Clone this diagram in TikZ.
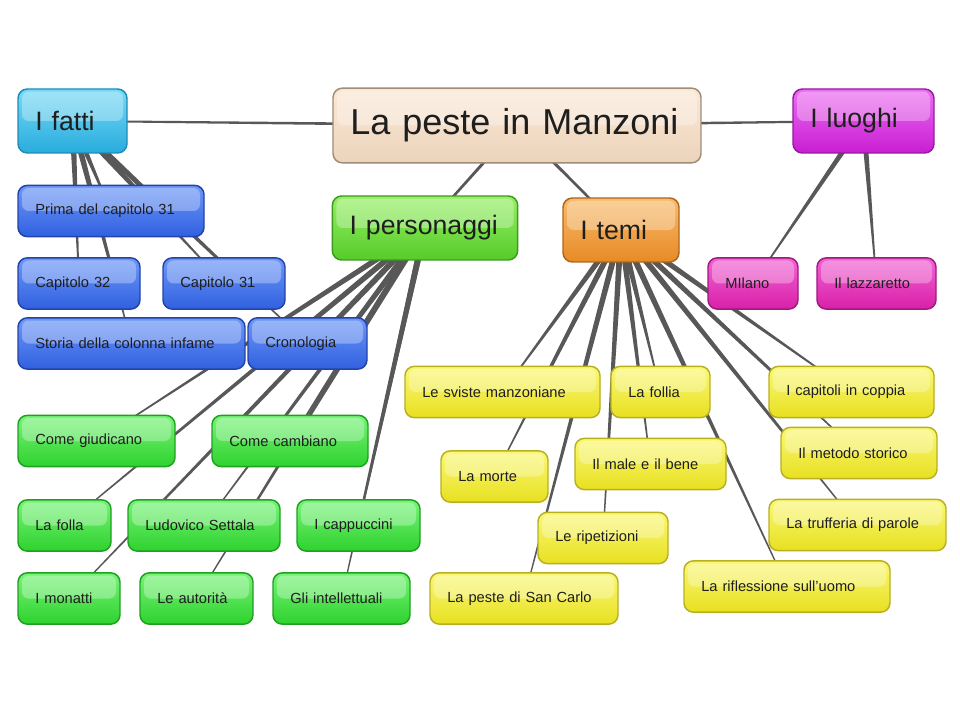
\documentclass[tikz,border=0pt]{standalone}
\usepackage{fontspec}
\setmainfont{Liberation Sans}
\usetikzlibrary{calc,backgrounds}

\definecolor{linkgrey}{RGB}{88,88,88}
\definecolor{textgrey}{RGB}{30,30,30}
\definecolor{rootT}{RGB}{250,232,214}
\definecolor{rootB}{RGB}{236,212,188}
\definecolor{rootD}{RGB}{160,140,120}
\definecolor{cyanT}{RGB}{120,218,246}
\definecolor{cyanB}{RGB}{40,172,222}
\definecolor{cyanD}{RGB}{30,140,184}
\definecolor{magT}{RGB}{236,110,242}
\definecolor{magB}{RGB}{200,30,210}
\definecolor{magD}{RGB}{150,26,160}
\definecolor{grnT}{RGB}{150,240,100}
\definecolor{grnB}{RGB}{86,204,42}
\definecolor{grnD}{RGB}{62,154,30}
\definecolor{orgT}{RGB}{248,188,110}
\definecolor{orgB}{RGB}{232,138,37}
\definecolor{orgD}{RGB}{176,102,26}
\definecolor{bluT}{RGB}{110,152,248}
\definecolor{bluB}{RGB}{48,96,224}
\definecolor{bluD}{RGB}{34,68,170}
\definecolor{lgrT}{RGB}{120,244,120}
\definecolor{lgrB}{RGB}{46,210,46}
\definecolor{lgrD}{RGB}{32,160,32}
\definecolor{yelT}{RGB}{250,248,120}
\definecolor{yelB}{RGB}{232,224,32}
\definecolor{yelD}{RGB}{184,176,32}
\definecolor{pnkT}{RGB}{242,100,212}
\definecolor{pnkB}{RGB}{216,32,168}
\definecolor{pnkD}{RGB}{160,24,128}

\tikzset{
  gloss/.style={path picture={\fill[white,opacity=0.3,rounded corners=5pt]
      ([xshift=3pt,yshift=-2pt]path picture bounding box.north west)
      rectangle ([xshift=-3pt]path picture bounding box.east);}},
  box/.style={rounded corners=7pt, line width=1.1pt, inner xsep=13pt,
      align=left, text=textgrey, gloss},
  rootbox/.style={box, minimum height=56pt, top color=rootT, bottom color=rootB,
      draw=rootD, font=\fontsize{27}{32}\selectfont},
  topic/.style={box, minimum height=48pt, font=\fontsize{20}{24}\selectfont},
  leaf/.style={box, minimum height=38.5pt, font=\fontsize{11}{13}\selectfont},
  fattic/.style={top color=cyanT, bottom color=cyanB, draw=cyanD},
  luoghic/.style={top color=magT, bottom color=magB, draw=magD},
  persc/.style={top color=grnT, bottom color=grnB, draw=grnD},
  temic/.style={top color=orgT, bottom color=orgB, draw=orgD},
  fatto/.style={leaf, top color=bluT, bottom color=bluB, draw=bluD},
  pers/.style={leaf, top color=lgrT, bottom color=lgrB, draw=lgrD},
  tema/.style={leaf, top color=yelT, bottom color=yelB, draw=yelD},
  luogo/.style={leaf, top color=pnkT, bottom color=pnkB, draw=pnkD}
}

% tapered connector: parent, child, half width at parent, half width at child
\newcommand{\tapered}[4]{\fill[linkgrey] ($(#1.center)!#3!90:(#2.center)$) -- ($(#2.center)!#4!-90:(#1.center)$) -- ($(#2.center)!#4!90:(#1.center)$) -- ($(#1.center)!#3!-90:(#2.center)$) -- cycle;}

\begin{document}
\begin{tikzpicture}[x=0.75pt,y=0.75pt,yscale=-1,xscale=1]
\useasboundingbox (0,0) rectangle (960,720);

%Shape: root
\node [rootbox, text width=250pt] (root) at (517,125.5) {La peste in Manzoni};

%Shape: main branches
\node [topic, fattic, text width=55.75pt] (fatti) at (72.5,121) {I fatti};
\node [topic, luoghic, text width=79.75pt] (luoghi) at (863.5,121) {I luoghi};
\node [topic, persc, text width=113pt] (personaggi) at (425,228) {I personaggi};
\node [topic, temic, text width=61pt] (temi) at (621,230) {I temi};

%Shape: I fatti
\node [fatto, text width=113.5pt] (prima) at (111,211) {Prima del capitolo 31};
\node [fatto, text width=65.5pt] (cap32) at (79,283.5) {Capitolo 32};
\node [fatto, text width=65.5pt] (cap31) at (224,283.5) {Capitolo 31};
\node [fatto, text width=144.25pt] (storia) at (131.5,343.5) {Storia della colonna infame};
\node [fatto, text width=63.25pt] (crono) at (307.5,343.5) {Cronologia};

%Shape: I luoghi
\node [luogo, text width=41.5pt] (milano) at (753,283.5) {MIlano};
\node [luogo, text width=63.25pt] (lazzaretto) at (876.5,283.5) {Il lazzaretto};

%Shape: I personaggi
\node [pers, text width=91.75pt] (giudicano) at (96.5,441) {Come giudicano};
\node [pers, text width=91pt] (cambiano) at (290,441) {Come cambiano};
\node [pers, text width=43.75pt] (folla) at (64.5,525.5) {La folla};
\node [pers, text width=88pt] (settala) at (204,525.5) {Ludovico Settala};
\node [pers, text width=66.25pt] (cappuccini) at (358.5,525.5) {I cappuccini};
\node [pers, text width=50.5pt] (monatti) at (69,598.5) {I monatti};
\node [pers, text width=58.75pt] (autorita) at (196.5,598.5) {Le autorità};
\node [pers, text width=76.75pt] (intellettuali) at (341.5,598.5) {Gli intellettuali};

%Shape: I temi
\node [tema, text width=120.25pt] (sviste) at (502.5,392) {Le sviste manzoniane};
\node [tema, text width=48.25pt] (follia) at (660.5,392) {La follia};
\node [tema, text width=97.75pt] (capitoli) at (851.5,392) {I capitoli in coppia};
\node [tema, text width=54.25pt] (morte) at (494.5,476.5) {La morte};
\node [tema, text width=87.25pt] (male) at (650.5,464) {Il male e il bene};
\node [tema, text width=91pt] (metodo) at (859,453) {Il metodo storico};
\node [tema, text width=71.5pt] (ripetizioni) at (603,538) {Le ripetizioni};
\node [tema, text width=106.75pt] (trufferia) at (857.5,525) {La trufferia di parole};
\node [tema, text width=115pt] (sancarlo) at (524,598.5) {La peste di San Carlo};
\node [tema, text width=128.5pt] (riflessione) at (787,586.5) {La riflessione sull'uomo};

\begin{scope}[on background layer]
\fill [white] (0,0) rectangle (960,720);
%Straight Lines: root
\tapered{root}{fatti}{1.2pt}{0.7pt}
\tapered{root}{luoghi}{1.2pt}{0.7pt}
\tapered{root}{personaggi}{1.3pt}{0.8pt}
\tapered{root}{temi}{1.3pt}{0.8pt}
%Straight Lines: I fatti
\foreach \c in {prima,cap32,cap31,storia,crono}
  {\tapered{fatti}{\c}{2.4pt}{0.35pt}}
%Straight Lines: I luoghi
\foreach \c in {milano,lazzaretto}
  {\tapered{luoghi}{\c}{2.2pt}{0.35pt}}
%Straight Lines: I personaggi
\foreach \c in {giudicano,cambiano,folla,settala,cappuccini,monatti,autorita,intellettuali}
  {\tapered{personaggi}{\c}{2.4pt}{0.35pt}}
%Straight Lines: I temi
\foreach \c in {sviste,follia,capitoli,morte,male,metodo,ripetizioni,trufferia,sancarlo,riflessione}
  {\tapered{temi}{\c}{2.4pt}{0.35pt}}
\end{scope}

\end{tikzpicture}
\end{document}
